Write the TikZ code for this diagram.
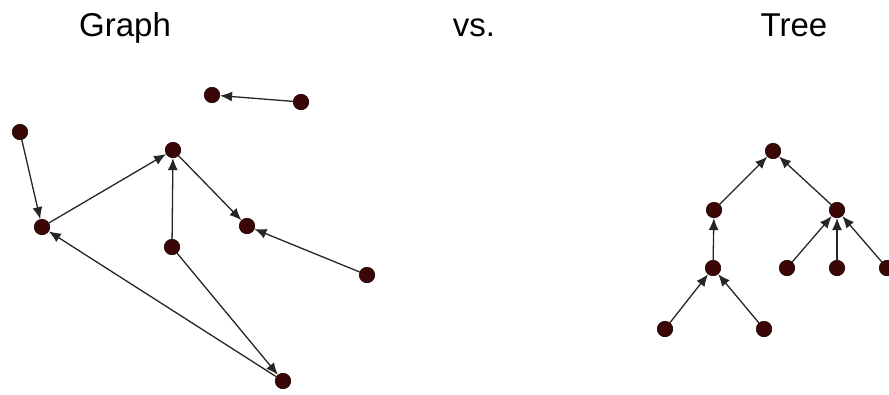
\documentclass[tikz,border=0pt]{standalone}
\usepackage{fontspec}
\setmainfont{Liberation Sans}
\usetikzlibrary{arrows.meta}
\definecolor{nodefill}{HTML}{3A0606}
\definecolor{nodeline}{HTML}{1A0000}
\begin{document}
\begin{tikzpicture}[x=1pt,y=-1pt,
  vtx/.style={circle,fill=nodefill,draw=nodeline,line width=0.6pt,minimum size=15.5pt,inner sep=0pt},
  edge/.style={draw=black!85,line width=1.3pt,-{Latex[length=12pt,width=10pt]}},
  title/.style={font=\fontsize{33}{36}\selectfont,anchor=base}]
\useasboundingbox (0,0) rectangle (889,394);
\fill[white] (0,0) rectangle (889,394);
% titles
\node[title] (tg) at (125,36) {Graph};
\node[title] (tv) at (474,36) {vs.};
\node[title] (tt) at (794,36) {Tree};
% graph nodes
\node[vtx] (A) at (212,95) {};
\node[vtx] (B) at (301,102) {};
\node[vtx] (C) at (20,132) {};
\node[vtx] (D) at (173,150) {};
\node[vtx] (E) at (42,227) {};
\node[vtx] (F) at (247,226) {};
\node[vtx] (G) at (172,247) {};
\node[vtx] (H) at (367,275) {};
\node[vtx] (I) at (283,381) {};
\draw[edge] (B) -- (A);
\draw[edge] (C) -- (E);
\draw[edge] (E) -- (D);
\draw[edge] (G) -- (D);
\draw[edge] (D) -- (F);
\draw[edge] (H) -- (F);
\draw[edge] (G) -- (I);
\draw[edge] (I) -- (E);
% tree nodes
\node[vtx] (r) at (773,151) {};
\node[vtx] (l) at (714,210) {};
\node[vtx] (rt) at (837,210) {};
\node[vtx] (ll) at (713,268) {};
\node[vtx] (rl) at (787,268) {};
\node[vtx] (rm) at (837,268) {};
\node[vtx] (rr) at (887,268) {};
\node[vtx] (lll) at (665,329) {};
\node[vtx] (llr) at (764,329) {};
\draw[edge] (l) -- (r);
\draw[edge] (rt) -- (r);
\draw[edge] (ll) -- (l);
\draw[edge] (rl) -- (rt);
\draw[edge] (rm) -- (rt);
\draw[edge] (rr) -- (rt);
\draw[edge] (lll) -- (ll);
\draw[edge] (llr) -- (ll);
\end{tikzpicture}
\end{document}
